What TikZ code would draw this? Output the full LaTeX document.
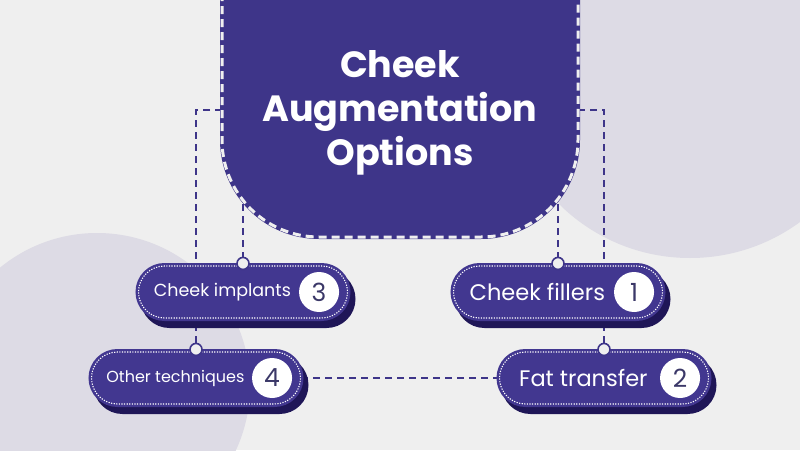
\documentclass[tikz,border=0pt]{standalone}
\usepackage{fontspec}
\setmainfont{Poppins}
\usetikzlibrary{shapes.misc,shadows,positioning,calc}

\definecolor{bgcol}{HTML}{EFEFEF}
\definecolor{blobcol}{HTML}{DDDBE5}
\definecolor{boxcol}{HTML}{3E3589}
\definecolor{pillcol}{HTML}{423790}
\definecolor{shadecol}{HTML}{1F1657}
\definecolor{numcol}{HTML}{3B3868}

\pgfdeclarelayer{back}
\pgfdeclarelayer{mid}
\pgfsetlayers{back,mid,main}

\tikzset{
  pill/.style={rounded rectangle, minimum width=209pt, minimum height=52pt, inner sep=0pt,
    drop shadow={shadow xshift=5pt, shadow yshift=-7pt, opacity=1, fill=shadecol, draw=shadecol, solid, line width=6pt},
    preaction={draw=pillcol, solid, line width=6pt},
    fill=pillcol, draw=white, line width=1.1pt, dash pattern=on 1.2pt off 1.4pt},
  pilltext/.style={text=white, inner sep=0pt},
  num/.style={circle, fill=white, minimum size=40pt, inner sep=0pt, text=numcol, font=\fontsize{25}{25}\selectfont},
  joint/.style={circle, fill=bgcol, draw=boxcol, line width=1.6pt, minimum size=12pt, inner sep=0pt},
  link/.style={draw=boxcol, line width=1.8pt, dash pattern=on 7pt off 5pt},
  boxedge/.style={draw=bgcol, line width=3pt, dash pattern=on 8pt off 5pt},
  title/.style={text=white, align=center, font=\bfseries\fontsize{36.5}{44}\selectfont}
}

\begin{document}
\begin{tikzpicture}[x=1pt, y=-1pt]
  % canvas and blobs
  \useasboundingbox (0,0) rectangle (800,450);
  \begin{pgfonlayer}{back}
    \fill[bgcol] (0,0) rectangle (800,450);
    \begin{scope}
      \clip (0,0) rectangle (800,450);
      \fill[blobcol] (690,72) circle (186pt);
      \fill[blobcol] (97,386) circle (153pt);
    \end{scope}
  \end{pgfonlayer}

  % title box
  \fill[boxcol, rounded corners=99pt] (220,-20) -- (220,239) -- (580,239) -- (580,-20);
  \draw[boxedge, rounded corners=97pt] (222,-20) -- (222,237) -- (578,237) -- (578,-20);
  \node[title] (title) at (400,113) {Cheek\\Augmentation\\Options};
  \coordinate (boxW) at (222,110);
  \coordinate (boxE) at (578,110);
  \coordinate (boxSW) at (243,180);
  \coordinate (boxSE) at (558,180);

  % options
  \node[pill] (implants) at (243,292) {};
  \node[pill] (fillers) at (558,292) {};
  \node[pill] (techniques) at (196,378) {};
  \node[pill] (fat) at (604,378) {};

  \node[num] (implantsnum) at ([xshift=-29pt]implants.east) {3};
  \node[num] (fillersnum) at ([xshift=-29pt]fillers.east) {1};
  \node[num] (techniquesnum) at ([xshift=-29pt]techniques.east) {4};
  \node[num] (fatnum) at ([xshift=-29pt]fat.east) {2};

  \node[pilltext, font=\fontsize{17.5}{17.5}\selectfont] (implantstext)
    at ($(implants.west)!0.5!(implantsnum.west)+(4,0)$) {Cheek implants};
  \node[pilltext, font=\fontsize{22.5}{22.5}\selectfont] (fillerstext)
    at ($(fillers.west)!0.5!(fillersnum.west)+(4,0)$) {Cheek fillers};
  \node[pilltext, font=\fontsize{16}{16}\selectfont] (techniquestext)
    at ($(techniques.west)!0.5!(techniquesnum.west)+(4,0)$) {Other techniques};
  \node[pilltext, font=\fontsize{22.5}{22.5}\selectfont] (fattext)
    at ($(fat.west)!0.5!(fatnum.west)+(4,0)$) {Fat transfer};

  \node[joint] (implantsjoint) at ([yshift=2pt]implants.north) {};
  \node[joint] (fillersjoint) at ([yshift=2pt]fillers.north) {};
  \node[joint] (techniquesjoint) at ([yshift=2pt]techniques.north) {};
  \node[joint] (fatjoint) at ([yshift=2pt]fat.north) {};

  % connectors
  \begin{pgfonlayer}{mid}
    \draw[link] (boxW) -| (techniquesjoint);
    \draw[link] (boxE) -| (fatjoint);
    \draw[link] (boxSW) -- (implantsjoint);
    \draw[link] (boxSE) -- (fillersjoint);
    \draw[link] (techniques.east) -- (fat.west);
  \end{pgfonlayer}
\end{tikzpicture}
\end{document}
